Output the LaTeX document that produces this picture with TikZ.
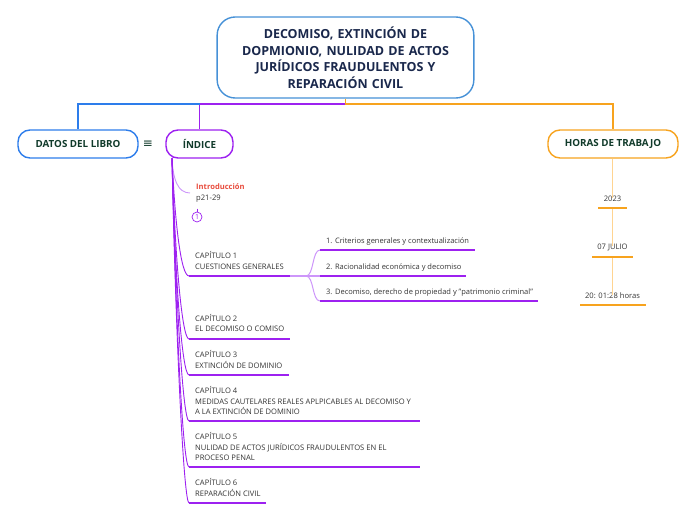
\documentclass[tikz,border=0pt]{standalone}
\usepackage{fontspec}
\setmainfont{Open Sans}
\newfontfamily\symfont{DejaVu Sans}
\definecolor{tblue}{RGB}{70,145,215}
\definecolor{navy}{RGB}{26,40,76}
\definecolor{dgreen}{RGB}{16,58,42}
\definecolor{cblue}{RGB}{45,125,235}
\definecolor{vio}{RGB}{157,33,240}
\definecolor{lvio}{RGB}{205,150,250}
\definecolor{orng}{RGB}{247,163,30}
\definecolor{lorng}{RGB}{255,212,145}
\definecolor{introred}{RGB}{232,76,61}
\definecolor{txt}{RGB}{51,51,51}
\begin{document}
\begin{tikzpicture}[x=1pt,y=-1pt,
  mainbox/.style={draw=#1, line width=1.4pt, rounded corners=12pt, fill=white, inner sep=0pt,
    text=dgreen, font=\fontsize{9.8}{11}\selectfont\bfseries, minimum height=28pt},
  leaf/.style={inner sep=0pt, text=txt, font=\fontsize{7.6}{10.5}\selectfont, align=left, anchor=north west},
  subleaf/.style={inner sep=0pt, text=txt, font=\fontsize{7.5}{10}\selectfont, anchor=base west},
  hleaf/.style={inner sep=0pt, text=txt, font=\fontsize{7.6}{10}\selectfont, anchor=base},
  branch/.style={vio, line width=0.9pt},
  uline/.style={vio, line width=2pt},
  subcurve/.style={lvio, line width=1pt},
  oline/.style={orng, line width=2pt},
  oconn/.style={lorng, line width=1.2pt}
]
\useasboundingbox (0,0) rectangle (696,520);

% title
\node[draw=tblue, line width=1.4pt, rounded corners=18pt, fill=white, minimum width=255pt,
  minimum height=81pt, text width=250pt, align=center, text=navy,
  font=\fontsize{12.5}{16.5}\selectfont\bfseries] (title) at (345.5,57.5)
  {DECOMISO, EXTINCIÓN DE\\ DOPMIONIO, NULIDAD DE ACTOS\\ JURÍDICOS FRAUDULENTOS Y\\ REPARACIÓN CIVIL};

% main boxes
\node[mainbox=cblue, minimum width=120pt] (datos) at (78,144) {DATOS DEL LIBRO};
\node[mainbox=vio, minimum width=67pt] (indice) at (199.5,144) {ÍNDICE};
\node[mainbox=orng, minimum width=130pt] (horas) at (613,144) {HORAS DE TRABAJO};
\node[inner sep=0pt, text=dgreen, font=\symfont\fontsize{12}{12}\selectfont] (menu) at (148,144) {≡};

% top connectors
\coordinate (jt) at (345.5,104);
\draw[vio, line width=1.4pt] (jt) -| (indice.north);
\draw[cblue, line width=1.4pt] (indice.north |- jt) -| (datos.north);
\draw[orng, line width=1.4pt] (title.south) -- (jt) -| (horas.north);

% horas children
\node[hleaf] (h1) at (612.5,201.5) {2023};
\node[hleaf] (h2) at (612.5,249.5) {07 JULIO};
\node[hleaf] (h3) at (612.5,298.5) {20: 01:28 horas};
\coordinate (h1l) at (598,208); \coordinate (h1r) at (627,208);
\coordinate (h2l) at (592,257); \coordinate (h2r) at (633,257);
\coordinate (h3l) at (580,305); \coordinate (h3r) at (646,305);
\draw[oconn] (horas.south -| h1) -- ([yshift=-2pt]h1.north);
\draw[oconn] (h1 |- h1l) -- ([yshift=-2pt]h2.north);
\draw[oconn] (h2 |- h2l) -- ([yshift=-2pt]h3.north);
\draw[oline] (h1l) -- (h1r);
\draw[oline] (h2l) -- (h2r);
\draw[oline] (h3l) -- (h3r);

% index children
\coordinate (itop) at (172,158);
\coordinate (introl) at (190,193);
\coordinate (c1l) at (189,276); \coordinate (c1r) at (290,276);
\coordinate (c2l) at (189,339); \coordinate (c2r) at (290,339);
\coordinate (c3l) at (189,375); \coordinate (c3r) at (289,375);
\coordinate (c4l) at (189,421); \coordinate (c4r) at (420,421);
\coordinate (c5l) at (189,467); \coordinate (c5r) at (420,467);
\coordinate (c6l) at (189,503); \coordinate (c6r) at (266,503);

\draw[lvio, line width=0.9pt] (itop) .. controls (173,180) and (178,193) .. (introl);
\draw[branch] (itop) .. controls (175,224) and (181,276) .. (c1l);
\draw[branch] (itop) .. controls (175,258) and (182,339) .. (c2l);
\draw[branch] (itop) .. controls (175,278) and (182,375) .. (c3l);
\draw[branch] (itop) .. controls (176,304) and (183,421) .. (c4l);
\draw[branch] (itop) .. controls (176,329) and (183,467) .. (c5l);
\draw[branch] (itop) .. controls (176,349) and (184,503) .. (c6l);

\draw[uline] (c1l) -- (c1r);
\draw[uline] (c2l) -- (c2r);
\draw[uline] (c3l) -- (c3r);
\draw[uline] (c4l) -- (c4r);
\draw[uline] (c5l) -- (c5r);
\draw[uline] (c6l) -- (c6r);

\node[leaf] (intro) at (196,182) {\strut{\color{introred}\bfseries Introducción}\\p21-29};
\node[draw=vio, circle, line width=0.7pt, minimum size=10pt, inner sep=0pt, text=vio,
  font=\fontsize{7}{8}\selectfont] (one) at (197,217) {1};
\coordinate (onetop) at (197,208.5);
\draw[vio, line width=0.7pt] (onetop) -- (one.north);

\node[leaf] (c1) at (195,251.2) {\strut CAPÍTULO 1\\CUESTIONES GENERALES};
\node[leaf] (c2) at (195,313.9) {\strut CAPÍTULO 2\\EL DECOMISO O COMISO};
\node[leaf] (c3) at (195,350.1) {\strut CAPÍTULO 3\\EXTINCIÓN DE DOMINIO};
\node[leaf] (c4) at (195,386.1) {\strut CAPÍTULO 4\\MEDIDAS CAUTELARES REALES APLPICABLES AL DECOMISO Y\\A LA EXTINCIÓN DE DOMINIO};
\node[leaf] (c5) at (195,432.1) {\strut CAPÍTULO 5\\NULIDAD DE ACTOS JURÍDICOS FRAUDULENTOS EN EL\\PROCESO PENAL};
\node[leaf] (c6) at (195,478.1) {\strut CAPÍTULO 6\\REPARACIÓN CIVIL};

% chapter 1 sub-items
\coordinate (jc) at (306,276);
\coordinate (s1l) at (320,250); \coordinate (s1r) at (475,250);
\coordinate (s2l) at (320,276); \coordinate (s2r) at (466,276);
\coordinate (s3l) at (320,301); \coordinate (s3r) at (538,301);
\draw[lvio, line width=2pt] (c1r) -- (jc);
\draw[subcurve] (jc) .. controls (314,276) and (312,250) .. (s1l);
\draw[lvio, line width=2pt] (jc) -- (s2l);
\draw[subcurve] (jc) .. controls (314,276) and (312,301) .. (s3l);
\draw[uline] (s1l) -- (s1r);
\draw[uline] (s2l) -- (s2r);
\draw[uline] (s3l) -- (s3r);
\node[subleaf] (s1) at (326,243.5) {1. Criterios generales y contextualización};
\node[subleaf] (s2) at (326,269) {2. Racionalidad económica y decomiso};
\node[subleaf] (s3) at (326,294) {3. Decomiso, derecho de propiedad y "patrimonio criminal"};
\end{tikzpicture}
\end{document}
